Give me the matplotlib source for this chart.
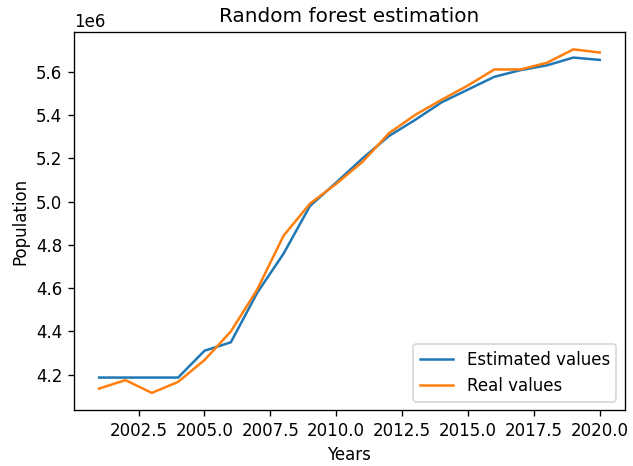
import numpy as np
import matplotlib
matplotlib.use("Agg")
import matplotlib.pyplot as plt

# years and population values
years = np.arange(2001, 2021)
estimated = np.array([4.186, 4.186, 4.186, 4.186, 4.310, 4.349, 4.578, 4.759, 4.979, 5.088,
                      5.200, 5.303, 5.378, 5.459, 5.518, 5.577, 5.608, 5.630, 5.666, 5.655]) * 1e6
real = np.array([4.135, 4.174, 4.115, 4.166, 4.267, 4.399, 4.593, 4.842, 4.990, 5.082,
                 5.184, 5.316, 5.401, 5.471, 5.537, 5.611, 5.611, 5.642, 5.704, 5.689]) * 1e6

fig = plt.figure(figsize=(633 / 120, 466 / 120), dpi=120)
ax = fig.add_subplot(111)
ax.plot(years, estimated, label="Estimated values")
ax.plot(years, real, label="Real values")
ax.set_title("Random forest estimation")
ax.set_xlabel("Years")
ax.set_ylabel("Population")
ax.legend(loc="lower right")
fig.subplots_adjust(left=0.117, right=0.987, top=0.931, bottom=0.12)
fig.savefig("out.png", dpi=120)
